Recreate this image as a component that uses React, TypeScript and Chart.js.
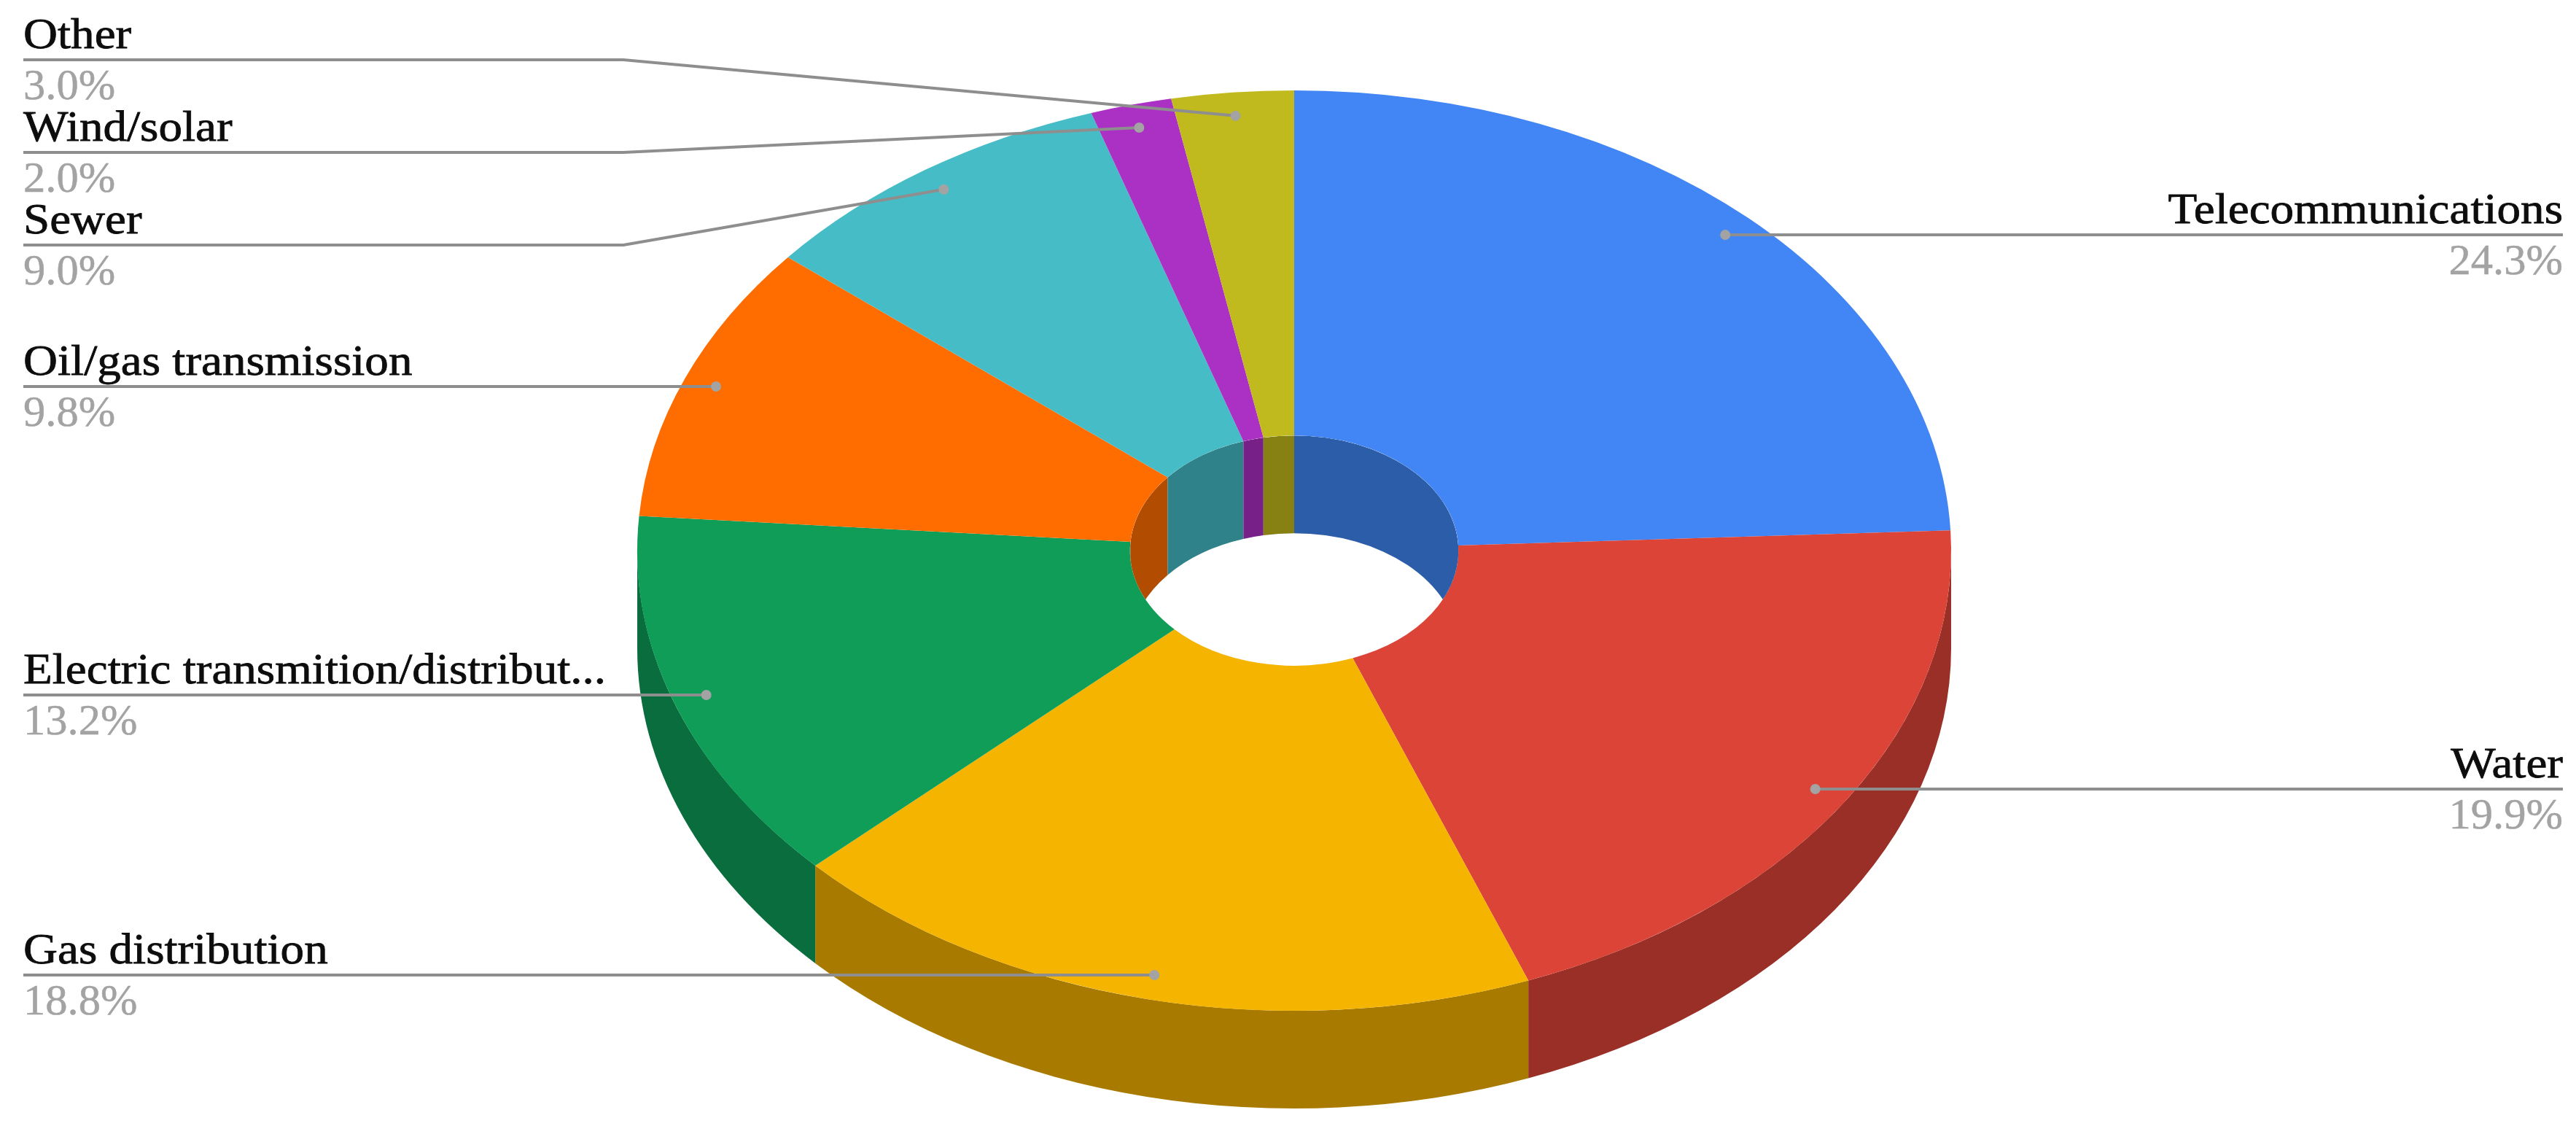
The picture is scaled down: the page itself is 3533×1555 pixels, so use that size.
import React, { useEffect, useRef } from "react";
import { Chart, registerables } from "chart.js";

Chart.register(...registerables);

const categories = [
  "Telecommunications",
  "Water",
  "Gas distribution",
  "Electric transmition/distribut...",
  "Oil/gas transmission",
  "Sewer",
  "Wind/solar",
  "Other",
];
const shares = [24.3, 19.9, 18.8, 13.2, 9.8, 9.0, 2.0, 3.0];
const topColors = ["#4285f4", "#db4437", "#f4b400", "#0f9d58", "#ff6d00", "#46bdc6", "#ab30c4", "#c0ba1e"];
const wallColors = ["#2c5da9", "#992f26", "#a87b00", "#0a6d3d", "#b24c00", "#2f828a", "#772088", "#868112"];

// Layout only: where each label's rule runs, which side it sits on, and whether it has an elbow.
const ruleY = [322, 1082, 1337, 953, 530, 336, 209, 82];
const ruleSide = ["right", "right", "left", "left", "left", "left", "left", "left"];
const ruleElbow = [false, false, false, false, false, true, true, true];

const W = 3533;
const H = 1555;
const CENTER = { x: 1775, y: 755 };
const RX = 901;
const RY = 631;
const DEPTH = 134;
const LEFT_X = 32;
const RIGHT_X = 3515;
const ELBOW_X = 855;
const DOT_T = 0.949;
const FONT = '60px "Liberation Serif"';
const NAME_STRETCH = 1.085;
const VALUE_STRETCH = 1.01;

const TWO_PI = Math.PI * 2;

// Chart.js lays the ring out as a circle; the plugin tips it over and adds the walls.
const ring3d = {
  id: "ring3d",
  beforeDatasetDraw(chart: any) {
    const { ctx } = chart;
    const arcs = chart.getDatasetMeta(0).data;
    arcs.forEach((arc: any, i: number) => {
      for (const off of [0, -TWO_PI, TWO_PI]) {
        const a0 = Math.max(arc.startAngle + off, 0);
        const a1 = Math.min(arc.endAngle + off, Math.PI);
        if (a1 <= a0) continue;
        ctx.beginPath();
        ctx.ellipse(CENTER.x, CENTER.y, RX, RY, 0, a0, a1, false);
        ctx.ellipse(CENTER.x, CENTER.y + DEPTH, RX, RY, 0, a1, a0, true);
        ctx.closePath();
        ctx.fillStyle = wallColors[i];
        ctx.fill();
      }
    });
    const a = arcs[0];
    ctx.save();
    ctx.translate(CENTER.x, CENTER.y);
    ctx.scale(RX / a.outerRadius, RY / a.outerRadius);
    ctx.translate(-a.x, -a.y);
    return true;
  },
  afterDatasetDraw(chart: any) {
    const { ctx } = chart;
    ctx.restore();
    const arcs = chart.getDatasetMeta(0).data;
    const k = arcs[0].innerRadius / arcs[0].outerRadius;
    const hx = RX * k;
    const hy = RY * k;
    ctx.save();
    ctx.beginPath();
    ctx.ellipse(CENTER.x, CENTER.y, hx, hy, 0, 0, TWO_PI);
    ctx.clip();
    arcs.forEach((arc: any, i: number) => {
      for (const off of [0, -TWO_PI, TWO_PI]) {
        const a0 = Math.max(arc.startAngle + off, -Math.PI);
        const a1 = Math.min(arc.endAngle + off, 0);
        if (a1 <= a0) continue;
        ctx.beginPath();
        ctx.ellipse(CENTER.x, CENTER.y, hx, hy, 0, a0, a1, false);
        ctx.ellipse(CENTER.x, CENTER.y + DEPTH, hx, hy, 0, a1, a0, true);
        ctx.closePath();
        ctx.fillStyle = wallColors[i];
        ctx.fill();
      }
    });
    ctx.restore();
  },
  afterDatasetsDraw(chart: any) {
    const { ctx } = chart;
    const arcs = chart.getDatasetMeta(0).data;

    const label = (text: string, x: number, y: number, align: string, color: string, stretch: number, weight: number) => {
      ctx.save();
      ctx.translate(x, y);
      ctx.scale(stretch, 1);
      ctx.font = FONT;
      ctx.textAlign = align;
      ctx.textBaseline = "alphabetic";
      ctx.fillStyle = color;
      ctx.fillText(text, 0, 0);
      if (weight > 0) {
        ctx.lineWidth = weight;
        ctx.strokeStyle = color;
        ctx.strokeText(text, 0, 0);
      }
      ctx.restore();
    };

    arcs.forEach((arc: any, i: number) => {
      const mid = (arc.startAngle + arc.endAngle) / 2;
      const dotX = CENTER.x + RX * DOT_T * Math.cos(mid);
      const y = ruleY[i];
      const dotY = ruleElbow[i] ? CENTER.y + RY * DOT_T * Math.sin(mid) : y;
      const right = ruleSide[i] === "right";
      const edgeX = right ? RIGHT_X : LEFT_X;

      ctx.beginPath();
      ctx.moveTo(edgeX, y);
      if (ruleElbow[i]) ctx.lineTo(ELBOW_X, y);
      ctx.lineTo(dotX, dotY);
      ctx.lineWidth = 4;
      ctx.strokeStyle = "#8e8e8e";
      ctx.stroke();

      ctx.beginPath();
      ctx.arc(dotX, dotY, 7, 0, TWO_PI);
      ctx.fillStyle = "#a3a3a3";
      ctx.fill();

      const align = right ? "right" : "left";
      label(categories[i], edgeX, y - 16, align, "#0d0d0d", NAME_STRETCH, 0.8);
      label(shares[i].toFixed(1) + "%", edgeX, y + 54, align, "#a3a3a3", VALUE_STRETCH, 0.5);
    });
  },
};

export default function App() {
  const ref = useRef<HTMLCanvasElement>(null);
  useEffect(() => {
    document.body.style.margin = "0";
    const chart = new Chart(ref.current as HTMLCanvasElement, {
      type: "doughnut",
      data: {
        labels: categories,
        datasets: [{ data: shares, backgroundColor: topColors, borderWidth: 0, clip: false }],
      },
      options: {
        animation: false,
        responsive: false,
        cutout: "25%",
        plugins: { legend: { display: false }, tooltip: { enabled: false } },
      },
      plugins: [ring3d],
    } as any);
    return () => chart.destroy();
  }, []);
  return <canvas ref={ref} width={W} height={H} style={{ display: "block", background: "#ffffff" }} />;
}
